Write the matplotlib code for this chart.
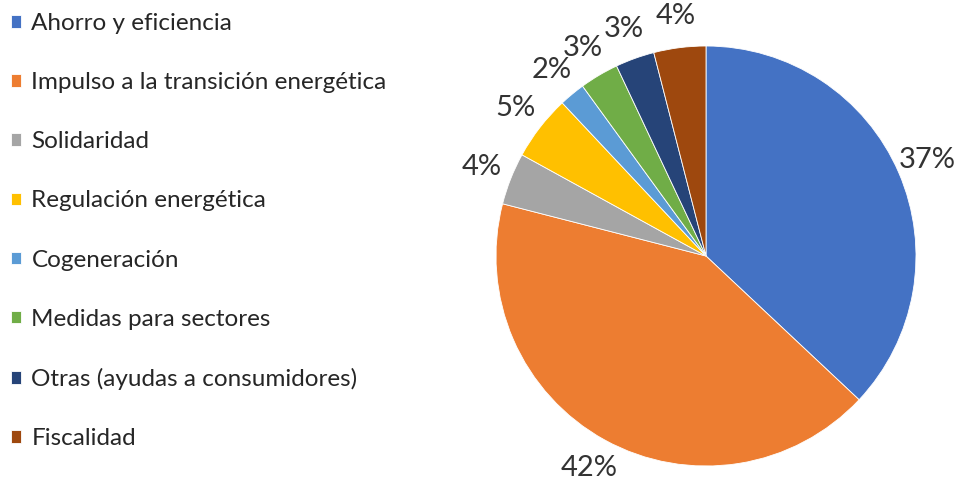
import matplotlib.pyplot as plt

# Reparto de medidas por tipo
categorias = ['Ahorro y eficiencia', 'Impulso a la transición energética', 'Solidaridad',
              'Regulación energética', 'Cogeneración', 'Medidas para sectores',
              'Otras (ayudas a consumidores)', 'Fiscalidad']
porcentajes = [37, 42, 4, 5, 2, 3, 3, 4]
colores = ['#4472C4', '#ED7D31', '#A5A5A5', '#FFC000', '#5B9BD5', '#70AD47', '#264478', '#9E480E']

plt.rcParams['font.family'] = ['Lato', 'DejaVu Sans']

fig = plt.figure(figsize=(9.61, 4.90), dpi=100)
W, H = 961, 490
cx, cy, r = 706, 256, 210
ax = fig.add_axes([(cx - r) / W, (H - cy - r) / H, 2 * r / W, 2 * r / H])

cuñas, _, textos = ax.pie(porcentajes, colors=colores, startangle=90, counterclock=False,
                          autopct=lambda p: f'{p:.0f}%', pctdistance=1.15,
                          wedgeprops=dict(edgecolor='white', linewidth=0.6))
for t in textos:
    t.set_fontsize(21)
    t.set_color('#333333')
ax.set_xlim(-1, 1)
ax.set_ylim(-1, 1)
ax.set_aspect('equal')
ax.axis('off')

fig.legend(cuñas, categorias, loc='upper left', bbox_to_anchor=(11 / W, 1 - 13 / H),
           frameon=False, fontsize=17.5, handlelength=0.42, handleheight=0.42,
           handletextpad=0.42, labelspacing=1.57, borderpad=0, borderaxespad=0,
           labelcolor='#262626')

fig.savefig('out.png', dpi=100)
